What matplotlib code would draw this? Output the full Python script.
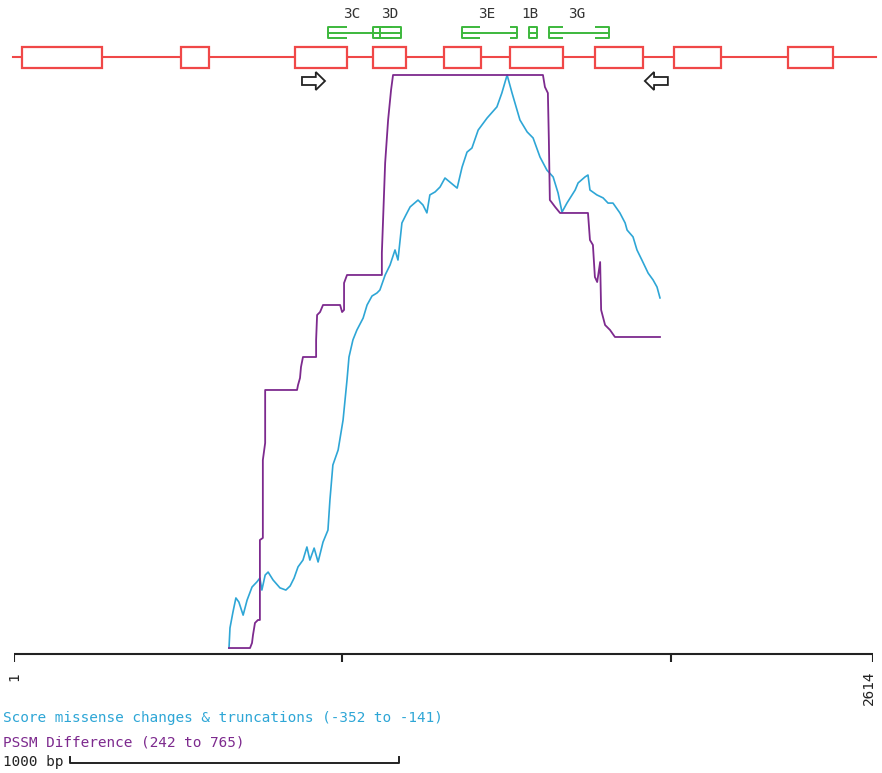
import matplotlib
matplotlib.use("Agg")
import matplotlib.pyplot as plt
from matplotlib.patches import Rectangle, FancyArrow

# ---------------- data ----------------
seq_len = 2614
ruler_ticks = [1, 1000, 2000, 2614]
ruler_labels = ["1", "", "", "2614"]

# exons (bp start, bp end)
exon_starts = [25, 509, 856, 1093, 1309, 1510, 1768, 2009, 2356]
exon_ends = [269, 594, 1014, 1193, 1422, 1671, 1914, 2152, 2492]
gene_span = [-2, 2623]

# amplicons: forward primer, reverse primer (bp)
amp_names = ["3C", "3D", "3E", "1B", "3G"]
amp_label_pos = [1029, 1145, 1440, 1571, 1714]
fwd_start = [956, 1093, 1364, 1568, 1628]
fwd_end = [1014, 1151, 1419, 1586, 1671]
rev_start = [1102, 1120, 1510, 1574, 1768]
rev_end = [1114, 1178, 1531, 1592, 1811]

# direction arrows (bp start, bp end)
arrow_right = [877, 947]
arrow_left = [1990, 1920]

# Score missense changes & truncations
score_bp = [655, 658, 667, 676, 685, 698, 710, 725, 740, 749, 755, 765, 774, 789,
            810, 828, 841, 853, 865, 880, 892, 901, 914, 926, 941, 956, 962, 971,
            987, 1002, 1014, 1020, 1032, 1044, 1063, 1075, 1090, 1105, 1114, 1130,
            1145, 1160, 1169, 1181, 1193, 1206, 1230, 1245, 1257, 1266, 1282, 1297,
            1312, 1327, 1349, 1364, 1379, 1394, 1413, 1440, 1470, 1485, 1501, 1516,
            1540, 1562, 1580, 1601, 1622, 1641, 1656, 1668, 1683, 1708, 1717, 1738,
            1747, 1753, 1774, 1793, 1808, 1823, 1844, 1860, 1866, 1884, 1896, 1911,
            1930, 1945, 1957, 1966]
score_val = [-351.3, -343.9, -338.1, -332.9, -334.4, -339.2, -333.7, -328.9, -327.0,
             -325.6, -330.0, -324.5, -323.4, -326.3, -329.2, -330.0, -328.5, -325.6,
             -321.5, -319.0, -314.2, -319.0, -314.6, -319.7, -312.4, -308.0, -297.0,
             -284.1, -278.6, -267.6, -252.9, -244.5, -238.2, -234.6, -230.2, -225.4,
             -222.1, -221.0, -219.9, -214.4, -210.7, -205.2, -208.9, -195.3, -192.4,
             -189.4, -186.9, -188.7, -191.6, -185.0, -183.9, -182.1, -178.8, -180.3,
             -182.5, -174.8, -169.3, -167.8, -161.2, -156.8, -152.7, -147.6, -141.0,
             -147.6, -157.5, -161.9, -164.1, -171.1, -175.9, -178.4, -184.3, -191.3,
             -188.0, -183.2, -180.6, -178.4, -177.7, -183.2, -185.0, -186.1, -188.0,
             -188.0, -191.6, -195.3, -197.9, -200.4, -205.2, -208.9, -213.7, -216.2,
             -218.8, -222.8]
score_range = [-352, -141]

# PSSM Difference
pssm_bp = [655, 719, 725, 728, 734, 743, 749, 749, 758, 758, 765, 765, 862, 865, 871,
           874, 880, 920, 920, 923, 932, 941, 993, 999, 1005, 1005, 1014, 1120, 1120,
           1130, 1139, 1148, 1154, 1610, 1616, 1625, 1628, 1631, 1638, 1647, 1662,
           1747, 1753, 1762, 1768, 1775, 1784, 1787, 1799, 1814, 1829, 1966]
pssm_val = [243.8, 243.8, 248.4, 255.6, 266.6, 269.3, 269.3, 342.1, 343.9, 414.8,
            430.3, 478.5, 478.5, 483.0, 489.4, 499.4, 508.5, 508.5, 524.0, 546.7,
            549.4, 555.8, 555.8, 549.4, 551.3, 575.8, 583.1, 583.1, 603.1, 685.0,
            724.1, 751.4, 765.0, 765.0, 754.1, 748.6, 705.9, 651.3, 648.6, 645.0,
            639.5, 639.5, 614.9, 610.4, 581.3, 576.7, 594.9, 551.3, 537.6, 533.1,
            526.7, 526.7]
pssm_range = [242, 765]

scale_bar_bp = 1000

# ---------------- style ----------------
RED = "#f04848"
GREEN = "#3cb83c"
CYAN = "#2ea6d6"
PURPLE = "#7d2a8e"
DARK = "#222222"
FONT = "DejaVu Sans Mono"
FS = 10.4

W, H = 882, 773
fig = plt.figure(figsize=(W / 100, H / 100), dpi=100)
fig.patch.set_facecolor("white")

x0, x1 = 14, 873
# main axes: x in bp, y in pixel rows of the figure
ax = fig.add_axes([x0 / W, 0, (x1 - x0) / W, 1])
ax.set_xlim(1, seq_len)
ax.set_ylim(H, 0)
ax.axis("off")

# gene structure
ax.plot(gene_span, [57, 57], color=RED, lw=1.5, clip_on=False, zorder=1)
for s, e in zip(exon_starts, exon_ends):
    ax.add_patch(Rectangle((s, 47), e - s, 21, facecolor="white", edgecolor=RED,
                           lw=1.6, zorder=2, clip_on=False))

# amplicons
yt, yb, ym = 27, 38, 32.5
for name, lx, fs, fe, rs, re in zip(amp_names, amp_label_pos, fwd_start, fwd_end,
                                    rev_start, rev_end):
    kw = dict(color=GREEN, lw=1.4, solid_capstyle="butt", zorder=3)
    ax.plot([fe, fs, fs, fe], [yt, yt, yb, yb], **kw)
    ax.plot([rs, re, re, rs], [yt, yt, yb, yb], **kw)
    ax.plot([fs, re], [ym, ym], **kw)
    ax.text(lx, 14, name, ha="center", va="center", fontsize=FS, family=FONT,
            color="#333333")

# arrows
for a in (arrow_right, arrow_left):
    ax.add_patch(FancyArrow(a[0], 81, a[1] - a[0], 0, width=8, head_width=18,
                            head_length=28, length_includes_head=True,
                            facecolor="white", edgecolor=DARK, lw=1.3, zorder=3))

# ruler
ax.plot([ruler_ticks[0], ruler_ticks[-1]], [654, 654], color=DARK, lw=1.5,
        solid_capstyle="butt")
for t, lab in zip(ruler_ticks, ruler_labels):
    ax.plot([t, t], [654, 662], color=DARK, lw=1.5, solid_capstyle="butt")
ax.text(ruler_ticks[0], 677, ruler_labels[0], rotation=90, ha="center", va="center",
        fontsize=FS, family=FONT, color=DARK)
ax.text(ruler_ticks[-1] - 12, 688, ruler_labels[-1], rotation=90, ha="center",
        va="center", fontsize=FS, family=FONT, color=DARK)

# scale bar
sb0 = 171
ax.plot([sb0, sb0, sb0 + scale_bar_bp, sb0 + scale_bar_bp], [757, 763, 763, 757],
        color=DARK, lw=1.4, clip_on=False)

# legend texts
fig.text(3 / W, 1 - 718 / H, "Score missense changes & truncations (%d to %d)"
         % (score_range[0], score_range[1]), color=CYAN, fontsize=FS, family=FONT,
         ha="left", va="center")
fig.text(3 / W, 1 - 742 / H, "PSSM Difference (%d to %d)" % (pssm_range[0], pssm_range[1]),
         color=PURPLE, fontsize=FS, family=FONT, ha="left", va="center")
fig.text(3 / W, 1 - 762 / H, "1000 bp", color=DARK, fontsize=FS, family=FONT,
         ha="left", va="center")

# curves
top, bot = 75, 650
axc = fig.add_axes([x0 / W, 1 - bot / H, (x1 - x0) / W, (bot - top) / H])
axc.set_xlim(1, seq_len)
axc.set_ylim(*score_range)
axc.axis("off")
axp = axc.twinx()
axp.set_ylim(*pssm_range)
axp.axis("off")
axc.plot(score_bp, score_val, color=CYAN, lw=1.2, clip_on=False)
axp.plot(pssm_bp, pssm_val, color=PURPLE, lw=1.3, clip_on=False)

fig.savefig("out.png", dpi=100, facecolor="white")
